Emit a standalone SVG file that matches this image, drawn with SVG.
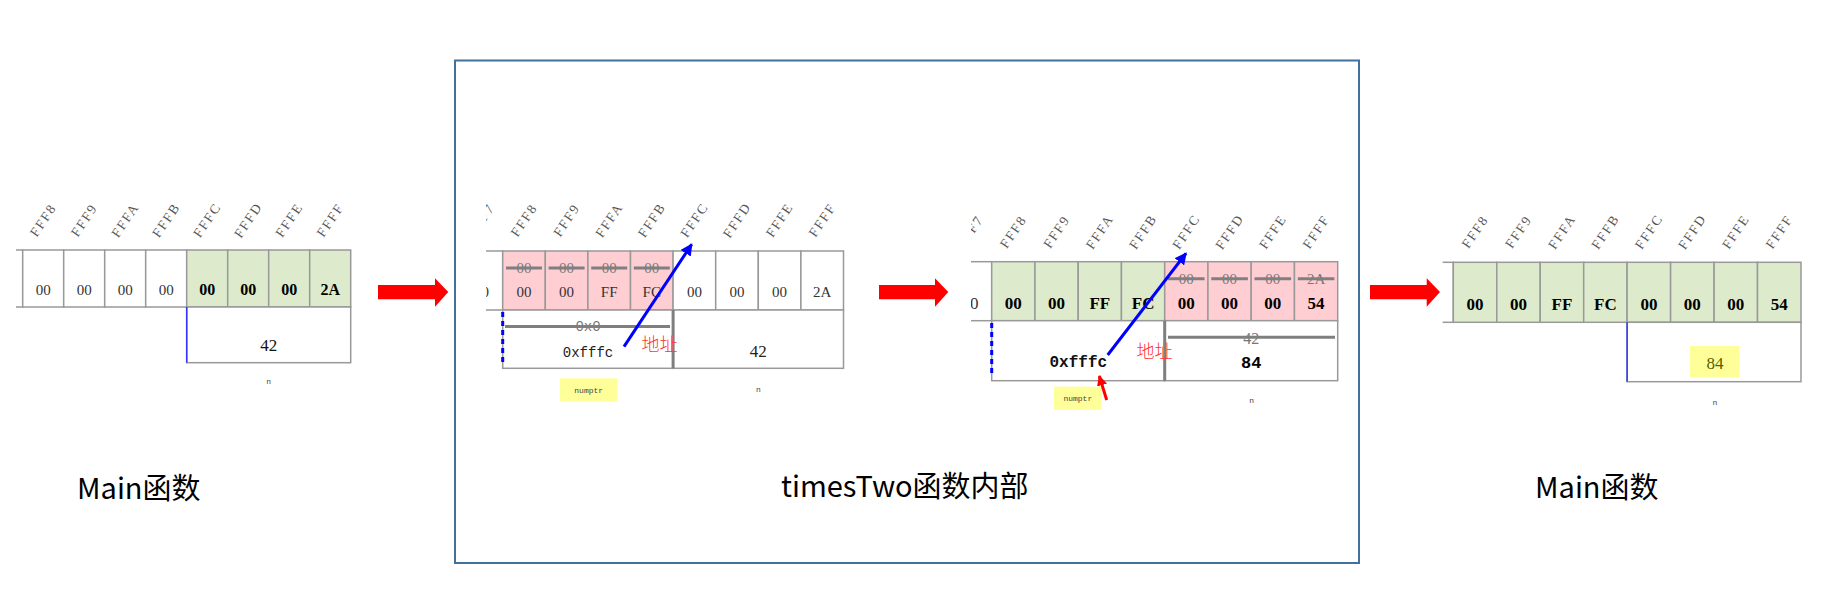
<svg xmlns="http://www.w3.org/2000/svg" width="1824" height="605" viewBox="0 0 1824 605">
<style>
.lbl{font-family:"Liberation Serif",serif;font-size:13.5px;fill:#555;letter-spacing:1.8px;text-anchor:middle;dominant-baseline:central}
.v{font-family:"Liberation Serif",serif;font-size:15px;fill:#333;text-anchor:middle}
.vb{font-family:"Liberation Serif",serif;font-size:17px;font-weight:bold;fill:#000;text-anchor:middle}
.sv{font-family:"Liberation Serif",serif;font-size:15px;fill:#777;text-anchor:middle}
.mono{font-family:"Liberation Mono",monospace;text-anchor:middle}
.tiny{font-family:"Liberation Mono",monospace;font-size:8px;fill:#444;text-anchor:middle}
.cell{stroke:#999;stroke-width:1.5}
.w{fill:#fff}.g{fill:#DDEBCC}.p{fill:#FFCED3}
.strike{stroke:#7f7f7f;stroke-width:3}
.div{stroke:#7f7f7f;stroke-width:3}
.addr{font-family:"Noto Sans CJK SC",sans-serif;font-size:18px;font-weight:300;fill:#FF3333}
.title{font-family:"Noto Sans CJK SC",sans-serif;font-size:29px;fill:#000}
.hl{fill:#FFFF99}
.big{fill:#FF0000}
</style>
<defs>
<clipPath id="c1"><rect x="16" y="0" width="400" height="605"/></clipPath>
<clipPath id="c2"><rect x="486" y="0" width="400" height="605"/></clipPath>
<clipPath id="c3"><rect x="971" y="0" width="400" height="605"/></clipPath>
<clipPath id="c4"><rect x="1442.7" y="0" width="400" height="605"/></clipPath>
<marker id="ab" viewBox="0 0 10 10" refX="9" refY="5" markerWidth="4" markerHeight="4" orient="auto" markerUnits="strokeWidth"><path d="M0,0L10,5L0,10z" fill="#0000FF"/></marker>
<marker id="ar" viewBox="0 0 10 10" refX="9" refY="5" markerWidth="3.5" markerHeight="3.5" orient="auto" markerUnits="strokeWidth"><path d="M0,0L10,5L0,10z" fill="#FF0000"/></marker>
</defs>
<rect width="1824" height="605" fill="#fff"/>

<!-- Frame -->
<g id="frame"><rect x="455" y="60.5" width="904" height="502.5" fill="none" stroke="#41719C" stroke-width="2"/></g>

<!-- Panel 1 -->
<g id="panel1" clip-path="url(#c1)">
<g id="p1-labels">
<text class="lbl" transform="translate(43.2,220) rotate(-56)">FFF8</text>
<text class="lbl" transform="translate(84.2,220) rotate(-56)">FFF9</text>
<text class="lbl" transform="translate(125.2,220) rotate(-56)">FFFA</text>
<text class="lbl" transform="translate(166.2,220) rotate(-56)">FFFB</text>
<text class="lbl" transform="translate(207.2,220) rotate(-56)">FFFC</text>
<text class="lbl" transform="translate(248.2,220) rotate(-56)">FFFD</text>
<text class="lbl" transform="translate(289.2,220) rotate(-56)">FFFE</text>
<text class="lbl" transform="translate(330.2,220) rotate(-56)">FFFF</text>
</g>
<g id="p1-cells">
<rect class="cell w" x="-18.3" y="250" width="41" height="57"/>
<rect class="cell w" x="22.7" y="250" width="41" height="57"/>
<rect class="cell w" x="63.7" y="250" width="41" height="57"/>
<rect class="cell w" x="104.7" y="250" width="41" height="57"/>
<rect class="cell w" x="145.7" y="250" width="41" height="57"/>
<rect class="cell g" x="186.7" y="250" width="41" height="57"/>
<rect class="cell g" x="227.7" y="250" width="41" height="57"/>
<rect class="cell g" x="268.7" y="250" width="41" height="57"/>
<rect class="cell g" x="309.7" y="250" width="41" height="57"/>
<text class="v" x="43.2" y="294.5">00</text>
<text class="v" x="84.2" y="294.5">00</text>
<text class="v" x="125.2" y="294.5">00</text>
<text class="v" x="166.2" y="294.5">00</text>
<text class="vb" x="207.2" y="295" style="font-size:16px">00</text>
<text class="vb" x="248.2" y="295" style="font-size:16px">00</text>
<text class="vb" x="289.2" y="295" style="font-size:16px">00</text>
<text class="vb" x="330.2" y="295" style="font-size:16px">2A</text>
</g>
<g id="p1-n">
<rect class="cell w" x="186.7" y="307" width="164" height="55.7"/>
<line x1="186.7" y1="307" x2="186.7" y2="362.7" stroke="#3333FF" stroke-width="1.5"/>
<text class="v" x="268.7" y="351" style="font-size:17px;fill:#111">42</text>
<text class="tiny" x="268.7" y="384">n</text>
</g>
</g>

<!-- Panel 2 -->
<g id="panel2" clip-path="url(#c2)">
<g id="p2-labels">
<text class="lbl" transform="translate(481.4,220) rotate(-56)">FFF7</text>
<text class="lbl" transform="translate(524,220) rotate(-56)">FFF8</text>
<text class="lbl" transform="translate(566.6,220) rotate(-56)">FFF9</text>
<text class="lbl" transform="translate(609.2,220) rotate(-56)">FFFA</text>
<text class="lbl" transform="translate(651.8,220) rotate(-56)">FFFB</text>
<text class="lbl" transform="translate(694.4,220) rotate(-56)">FFFC</text>
<text class="lbl" transform="translate(737,220) rotate(-56)">FFFD</text>
<text class="lbl" transform="translate(779.6,220) rotate(-56)">FFFE</text>
<text class="lbl" transform="translate(822.2,220) rotate(-56)">FFFF</text>
</g>
<g id="p2-cells">
<rect class="cell w" x="460.1" y="251" width="42.6" height="59"/>
<rect class="cell p" x="502.7" y="251" width="42.6" height="59"/>
<rect class="cell p" x="545.3" y="251" width="42.6" height="59"/>
<rect class="cell p" x="587.9" y="251" width="42.6" height="59"/>
<rect class="cell p" x="630.5" y="251" width="42.6" height="59"/>
<rect class="cell w" x="673.1" y="251" width="42.6" height="59"/>
<rect class="cell w" x="715.7" y="251" width="42.6" height="59"/>
<rect class="cell w" x="758.3" y="251" width="42.6" height="59"/>
<rect class="cell w" x="800.9" y="251" width="42.6" height="59"/>
<text class="sv" x="524" y="273.3">00</text>
<text class="sv" x="566.6" y="273.3">00</text>
<text class="sv" x="609.2" y="273.3">00</text>
<text class="sv" x="651.8" y="273.3">00</text>
<line class="strike" x1="506" y1="268" x2="542" y2="268"/>
<line class="strike" x1="548.6" y1="268" x2="584.6" y2="268"/>
<line class="strike" x1="591.2" y1="268" x2="627.2" y2="268"/>
<line class="strike" x1="633.8" y1="268" x2="669.8" y2="268"/>
<text class="v" x="481.4" y="297">00</text>
<text class="v" x="524" y="297">00</text>
<text class="v" x="566.6" y="297">00</text>
<text class="v" x="609.2" y="297">FF</text>
<text class="v" x="651.8" y="297">FC</text>
<text class="v" x="694.4" y="297">00</text>
<text class="v" x="737" y="297">00</text>
<text class="v" x="779.6" y="297">00</text>
<text class="v" x="822.2" y="297">2A</text>
</g>
<g id="p2-numptr">
<rect class="cell w" x="502.7" y="310" width="170.4" height="58.3"/>
<line x1="502.7" y1="312" x2="502.7" y2="364" stroke="#0000FF" stroke-width="3" stroke-dasharray="5,4"/>
<text class="sv mono" x="588" y="331" style="font-size:14px">0x0</text>
<line class="strike" x1="505" y1="326.5" x2="670" y2="326.5"/>
<text class="mono" x="588" y="356.5" style="font-size:14px;fill:#222">0xfffc</text>
<rect class="hl" x="560" y="378.3" width="57.3" height="23.4"/>
<text class="tiny" x="588.7" y="392.5">numptr</text>
</g>
<g id="p2-n">
<rect class="cell w" x="673.1" y="310" width="170.4" height="58.3"/>
<line class="div" x1="673.1" y1="310" x2="673.1" y2="368.3"/>
<text class="v" x="758.3" y="357" style="font-size:17px;fill:#222">42</text>
<text class="tiny" x="758.3" y="392">n</text>
</g>
<text class="addr" x="641.5" y="350.5">地址</text>
</g>

<!-- Panel 3 -->
<g id="panel3" clip-path="url(#c3)">
<g id="p3-labels">
<text class="lbl" transform="translate(970.1,231.7) rotate(-56)">FFF7</text>
<text class="lbl" transform="translate(1013.3,231.7) rotate(-56)">FFF8</text>
<text class="lbl" transform="translate(1056.6,231.7) rotate(-56)">FFF9</text>
<text class="lbl" transform="translate(1099.8,231.7) rotate(-56)">FFFA</text>
<text class="lbl" transform="translate(1143.1,231.7) rotate(-56)">FFFB</text>
<text class="lbl" transform="translate(1186.3,231.7) rotate(-56)">FFFC</text>
<text class="lbl" transform="translate(1229.6,231.7) rotate(-56)">FFFD</text>
<text class="lbl" transform="translate(1272.8,231.7) rotate(-56)">FFFE</text>
<text class="lbl" transform="translate(1316.1,231.7) rotate(-56)">FFFF</text>
</g>
<g id="p3-cells">
<rect class="cell w" x="948.45" y="261.7" width="43.25" height="59"/>
<rect class="cell g" x="991.7" y="261.7" width="43.25" height="59"/>
<rect class="cell g" x="1034.95" y="261.7" width="43.25" height="59"/>
<rect class="cell g" x="1078.2" y="261.7" width="43.25" height="59"/>
<rect class="cell g" x="1121.45" y="261.7" width="43.25" height="59"/>
<rect class="cell p" x="1164.7" y="261.7" width="43.25" height="59"/>
<rect class="cell p" x="1207.95" y="261.7" width="43.25" height="59"/>
<rect class="cell p" x="1251.2" y="261.7" width="43.25" height="59"/>
<rect class="cell p" x="1294.45" y="261.7" width="43.25" height="59"/>
<text class="sv" x="1186.3" y="284.3">00</text>
<text class="sv" x="1229.6" y="284.3">00</text>
<text class="sv" x="1272.8" y="284.3">00</text>
<text class="sv" x="1316.1" y="284.3">2A</text>
<line class="strike" x1="1168" y1="278.7" x2="1204.6" y2="278.7"/>
<line class="strike" x1="1211.3" y1="278.7" x2="1247.9" y2="278.7"/>
<line class="strike" x1="1254.5" y1="278.7" x2="1291.1" y2="278.7"/>
<line class="strike" x1="1297.8" y1="278.7" x2="1334.4" y2="278.7"/>
<text class="v" x="970.1" y="309" style="font-size:17px">00</text>
<text class="vb" x="1013.3" y="309">00</text>
<text class="vb" x="1056.6" y="309">00</text>
<text class="vb" x="1099.8" y="309">FF</text>
<text class="vb" x="1143.1" y="309">FC</text>
<text class="vb" x="1186.3" y="309">00</text>
<text class="vb" x="1229.6" y="309">00</text>
<text class="vb" x="1272.8" y="309">00</text>
<text class="vb" x="1316.1" y="309">54</text>
</g>
<g id="p3-numptr">
<rect class="cell w" x="991.7" y="320.7" width="173" height="60"/>
<line x1="991.7" y1="323" x2="991.7" y2="376" stroke="#0000FF" stroke-width="3" stroke-dasharray="5,4"/>
<text class="mono" x="1078.3" y="367" style="font-size:16px;font-weight:bold;fill:#111">0xfffc</text>
<rect class="hl" x="1054" y="386.7" width="47.7" height="23.3"/>
<text class="tiny" x="1077.8" y="401">numptr</text>
</g>
<g id="p3-n">
<rect class="cell w" x="1164.7" y="320.7" width="173" height="60"/>
<line class="div" x1="1164.7" y1="320.7" x2="1164.7" y2="380.7"/>
<text class="sv" x="1251.2" y="343.7" style="font-size:16px">42</text>
<line class="strike" x1="1168" y1="337.3" x2="1335" y2="337.3"/>
<text class="vb" x="1251.2" y="367.5" style="font-family:'Liberation Mono',monospace">84</text>
<text class="tiny" x="1251.7" y="403">n</text>
</g>
<text class="addr" x="1136.5" y="358">地址</text>
</g>

<!-- Panel 4 -->
<g id="panel4" clip-path="url(#c4)">
<g id="p4-labels">
<text class="lbl" transform="translate(1431.6,231.7) rotate(-56)">FFF7</text>
<text class="lbl" transform="translate(1475,231.7) rotate(-56)">FFF8</text>
<text class="lbl" transform="translate(1518.5,231.7) rotate(-56)">FFF9</text>
<text class="lbl" transform="translate(1562,231.7) rotate(-56)">FFFA</text>
<text class="lbl" transform="translate(1605.4,231.7) rotate(-56)">FFFB</text>
<text class="lbl" transform="translate(1648.9,231.7) rotate(-56)">FFFC</text>
<text class="lbl" transform="translate(1692.3,231.7) rotate(-56)">FFFD</text>
<text class="lbl" transform="translate(1735.8,231.7) rotate(-56)">FFFE</text>
<text class="lbl" transform="translate(1779.3,231.7) rotate(-56)">FFFF</text>
</g>
<g id="p4-cells">
<rect class="cell w" x="1409.8" y="262.3" width="43.5" height="60"/>
<rect class="cell g" x="1453.3" y="262.3" width="43.5" height="60"/>
<rect class="cell g" x="1496.8" y="262.3" width="43.4" height="60"/>
<rect class="cell g" x="1540.2" y="262.3" width="43.5" height="60"/>
<rect class="cell g" x="1583.7" y="262.3" width="43.4" height="60"/>
<rect class="cell g" x="1627.1" y="262.3" width="43.5" height="60"/>
<rect class="cell g" x="1670.6" y="262.3" width="43.5" height="60"/>
<rect class="cell g" x="1714.1" y="262.3" width="43.4" height="60"/>
<rect class="cell g" x="1757.5" y="262.3" width="43.5" height="60"/>
<text class="vb" x="1475" y="309.7">00</text>
<text class="vb" x="1518.5" y="309.7">00</text>
<text class="vb" x="1562" y="309.7">FF</text>
<text class="vb" x="1605.4" y="309.7">FC</text>
<text class="vb" x="1648.9" y="309.7">00</text>
<text class="vb" x="1692.3" y="309.7">00</text>
<text class="vb" x="1735.8" y="309.7">00</text>
<text class="vb" x="1779.3" y="309.7">54</text>
</g>
<g id="p4-n">
<rect class="cell w" x="1627.1" y="322.3" width="173.9" height="59.4"/>
<line x1="1627.1" y1="322.3" x2="1627.1" y2="381.7" stroke="#3333FF" stroke-width="1.5"/>
<rect class="hl" x="1690" y="346" width="49.3" height="31.3"/>
<text class="v" x="1715" y="369" style="font-size:17px;fill:#5C5C00">84</text>
<text class="tiny" x="1715" y="405">n</text>
</g>
</g>

<!-- Titles -->
<g id="titles">
<text class="title" x="77" y="499">Main函数</text>
<text class="title" x="781" y="497">timesTwo函数内部</text>
<text class="title" x="1535" y="497.5">Main函数</text>
</g>

<!-- Connectors -->
<g id="connectors">
<path class="big" d="M378,285H435V278.3L448.3,292L435,306.7V299.3H378Z"/>
<path class="big" d="M879,285H935V278.3L948.3,292L935,306.7V299.3H879Z"/>
<path class="big" d="M1370,285H1426.7V278.3L1440,292L1426.7,306.7V299.3H1370Z"/>
<line x1="624" y1="346.7" x2="691.7" y2="244.3" stroke="#0000FF" stroke-width="3" marker-end="url(#ab)"/>
<line x1="1107.7" y1="355" x2="1186" y2="253.3" stroke="#0000FF" stroke-width="3" marker-end="url(#ab)"/>
<line x1="1106.7" y1="400" x2="1099.3" y2="376" stroke="#FF0000" stroke-width="3" marker-end="url(#ar)"/>
</g>
</svg>
